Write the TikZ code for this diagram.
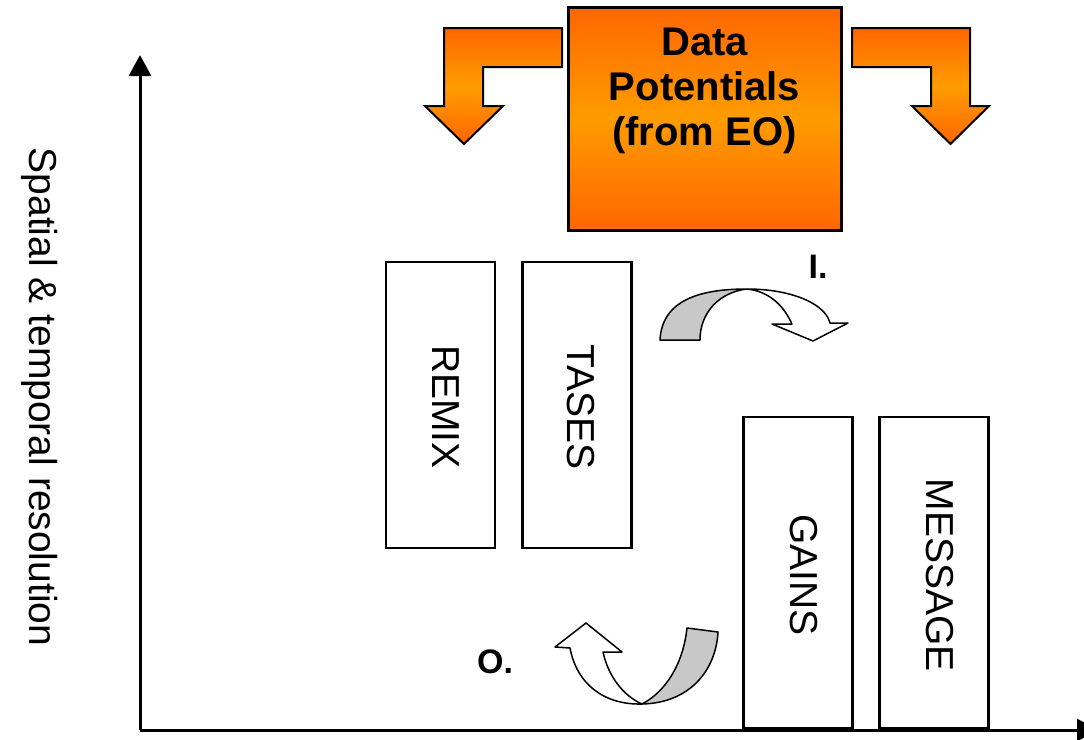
\documentclass[tikz,border=0pt]{standalone}
\usepackage{fontspec}
\setmainfont{Liberation Sans}
\usetikzlibrary{arrows.meta}
\definecolor{orA}{HTML}{FF6600}
\definecolor{orB}{HTML}{FF9C00}
\definecolor{bandgray}{HTML}{C8C8C8}
\begin{document}
\begin{tikzpicture}[x=0.5pt,y=-0.5pt,
  axis/.style={line width=1.5pt,-{Triangle[width=11pt,length=10.5pt]}},
  orangefill/.style={draw=black,line width=1pt,top color=orA,bottom color=orA,middle color=orB},
  modelbox/.style={draw=black,line width=1.1pt,fill=white,minimum width=54.5pt,inner sep=0pt},
  modeltext/.style={rotate=-90,font=\fontsize{19.5}{23}\selectfont},
  turnarrow/.style={draw=black,line width=0.75pt,line join=round},
  steplabel/.style={font=\fontsize{17}{20}\selectfont\bfseries}]
\useasboundingbox (0,0) rectangle (1084,740);
\coordinate (origin) at (140,730);
\coordinate (ytop) at (140,55);
\coordinate (xend) at (1098,730);
\draw[axis] (origin) -- (ytop);
\draw[axis] (origin) -- (xend);
\node[rotate=-90,font=\fontsize{19.5}{23}\selectfont] (ylabel) at (40,397) {Spatial \& temporal resolution};
\fill[orangefill] (444,28) -- (562,28) -- (562,67) -- (483,67) -- (483,106) -- (503,106) -- (464,144) -- (425,106) -- (444,106) -- cycle;
\fill[orangefill] (852,28) -- (970,28) -- (970,106) -- (989,106) -- (950.5,144) -- (912,106) -- (931,106) -- (931,67) -- (852,67) -- cycle;
\node[orangefill,line width=1.5pt,minimum width=136.5pt,minimum height=111.5pt,inner sep=0pt] (source) at (704.5,118.5) {};
\node[align=center,font=\fontsize{20}{22.5}\selectfont\bfseries] (sourcetext) at (704.5,91) {Data\\Potentials\\(from EO)};
\node[modelbox,minimum height=143pt] (remix) at (440.5,405) {};
\node[modelbox,minimum height=143pt] (tases) at (577,405) {};
\node[modelbox,minimum height=155.5pt] (gains) at (798,572.5) {};
\node[modelbox,minimum height=155.5pt] (message) at (934,572.5) {};
\node[modeltext] (remixtext) at (446,407) {REMIX};
\node[modeltext] (tasestext) at (581,407) {TASES};
\node[modeltext] (gainstext) at (804,575) {GAINS};
\node[modeltext] (messagetext) at (940,575) {MESSAGE};
\filldraw[turnarrow,fill=bandgray] (660,340) .. controls (662,300) and (700,289) .. (747,289) .. controls (720,292) and (700,312) .. (700,340) -- cycle;
\filldraw[turnarrow,fill=white] (747,289) .. controls (790,289) and (825,303) .. (830,323) -- (848,323) -- (813,341) -- (772,324) -- (792,324) .. controls (782,302) and (766,291) .. (747,289) -- cycle;
\node[steplabel] (intext) at (818,267) {I.};
\filldraw[turnarrow,fill=bandgray] (642,704) .. controls (690,703) and (716,670) .. (718,632) -- (687,628) .. controls (683,665) and (665,692) .. (642,704) -- cycle;
\filldraw[turnarrow,fill=white] (570,648) -- (555,647) -- (586,623) -- (622,652) -- (603,652) .. controls (608,675) and (622,695) .. (642,704) .. controls (605,705) and (577,685) .. (570,648) -- cycle;
\node[steplabel] (outtext) at (495,662) {O.};
\end{tikzpicture}
\end{document}
